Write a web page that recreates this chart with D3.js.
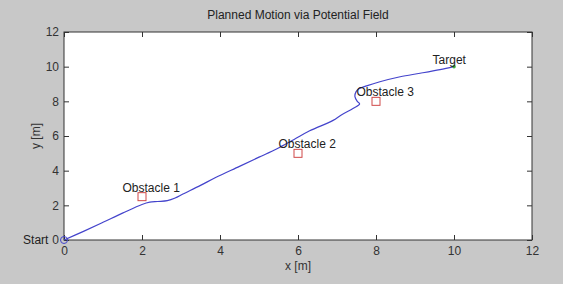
<!DOCTYPE html>
<html>
<head>
<meta charset="utf-8">
<script src="https://cdn.jsdelivr.net/npm/d3@7"></script>
<style>
  body { margin: 0; background: #c8c8c8; }
  svg { display: block; font-family: "Liberation Sans", Arial, sans-serif; }
</style>
</head>
<body>
<div id="chart"></div>
<script>
// path of the robot
var pathX = [0, 0.5, 1, 1.5, 2.0, 2.2, 2.4, 2.65, 2.85, 3.05, 3.5, 3.9, 4.5, 5.0, 5.45, 5.9, 6.3, 6.9, 7.1, 7.42, 7.58, 7.52, 7.46, 7.49, 7.56, 7.76, 8.1, 8.62, 9.13, 9.64, 10];
var pathY = [0, 0.5, 1.02, 1.55, 2.05, 2.18, 2.22, 2.27, 2.42, 2.65, 3.15, 3.62, 4.25, 4.78, 5.25, 5.8, 6.3, 6.9, 7.2, 7.6, 7.85, 8.0, 8.27, 8.56, 8.72, 8.89, 9.13, 9.42, 9.62, 9.83, 10];

var obstacleX = [2, 6, 8];
var obstacleY = [2.5, 5, 8];
var obstacleNames = ["Obstacle 1", "Obstacle 2", "Obstacle 3"];

var targetX = 10, targetY = 10;
var startX = 0, startY = 0;

var xTicks = [0, 2, 4, 6, 8, 10, 12];
var yTicks = [0, 2, 4, 6, 8, 10, 12];

var margin = {top: 32, right: 31, bottom: 44, left: 64},
    width = 563 - margin.left - margin.right,
    height = 284 - margin.top - margin.bottom;

var svg = d3.select("#chart")
  .append("svg")
    .attr("width", 563)
    .attr("height", 284);

svg.append("rect")
  .attr("width", 563).attr("height", 284)
  .attr("fill", "#c8c8c8");

svg.append("text")
  .attr("x", margin.left + width / 2)
  .attr("y", 19)
  .attr("text-anchor", "middle")
  .attr("font-size", 12)
  .attr("fill", "#222")
  .text("Planned Motion via Potential Field");

var g = svg.append("g")
  .attr("transform", "translate(" + margin.left + "," + margin.top + ")");

var x = d3.scaleLinear().domain([0, 12]).range([0, width]);
var y = d3.scaleLinear().domain([0, 12]).range([height, 0]);

// white axes box
g.append("rect")
  .attr("width", width).attr("height", height)
  .attr("fill", "#ffffff");

// axes, ticks pointing inward (MATLAB style)
function styleAxis(sel) {
  sel.select(".domain").remove();
  sel.selectAll("line").attr("stroke", "#333");
  sel.selectAll("text").attr("fill", "#333").attr("font-size", 12)
    .attr("font-family", "'Liberation Sans', Arial, sans-serif");
}

g.append("g")
  .attr("transform", "translate(0," + height + ")")
  .call(d3.axisBottom(x).tickValues(xTicks).tickSize(-5).tickPadding(6))
  .call(styleAxis);

g.append("g")
  .call(d3.axisTop(x).tickValues(xTicks).tickSize(-5).tickFormat(""))
  .call(styleAxis);

g.append("g")
  .call(d3.axisLeft(y).tickValues(yTicks).tickSize(-5).tickPadding(5))
  .call(styleAxis);

g.append("g")
  .attr("transform", "translate(" + width + ",0)")
  .call(d3.axisRight(y).tickValues(yTicks).tickSize(-5).tickFormat(""))
  .call(styleAxis);

g.append("rect")
  .attr("width", width).attr("height", height)
  .attr("fill", "none")
  .attr("stroke", "#333")
  .attr("stroke-width", 1);

// axis labels
svg.append("text")
  .attr("x", margin.left + width / 2)
  .attr("y", 270)
  .attr("text-anchor", "middle")
  .attr("font-size", 12)
  .attr("fill", "#333")
  .text("x [m]");

svg.append("text")
  .attr("transform", "translate(40," + (margin.top + height / 2) + ") rotate(-90)")
  .attr("text-anchor", "middle")
  .attr("font-size", 12)
  .attr("fill", "#333")
  .text("y [m]");

// planned path
var pts = d3.zip(pathX, pathY);
g.append("path")
  .datum(pts)
  .attr("fill", "none")
  .attr("stroke", "#4444cc")
  .attr("stroke-width", 1.2)
  .attr("d", d3.line()
    .x(function(d) { return x(d[0]); })
    .y(function(d) { return y(d[1]); })
    .curve(d3.curveCatmullRom));

// obstacles
var obs = d3.zip(obstacleX, obstacleY, obstacleNames);
g.selectAll(".obs")
  .data(obs)
  .join("rect")
    .attr("class", "obs")
    .attr("x", function(d) { return x(d[0]) - 4; })
    .attr("y", function(d) { return y(d[1]) - 4; })
    .attr("width", 8).attr("height", 8)
    .attr("fill", "none")
    .attr("stroke", "#d04848")
    .attr("stroke-width", 1);

g.selectAll(".obsLabel")
  .data(obs)
  .join("text")
    .attr("class", "obsLabel")
    .attr("x", function(d) { return x(d[0] - 0.5); })
    .attr("y", function(d) { return y(d[1] + 0.5); })
    .attr("dy", "0.3em")
    .attr("font-size", 12)
    .attr("fill", "#222")
    .text(function(d) { return d[2]; });

// target
g.append("circle")
  .attr("cx", x(targetX)).attr("cy", y(targetY))
  .attr("r", 1.8)
  .attr("fill", "#40b040");

g.append("text")
  .attr("x", x(targetX - 0.55))
  .attr("y", y(targetY + 0.35))
  .attr("dy", "0.3em")
  .attr("font-size", 12)
  .attr("fill", "#222")
  .text("Target");

// start
g.append("circle")
  .attr("cx", x(startX)).attr("cy", y(startY))
  .attr("r", 3.5)
  .attr("fill", "none")
  .attr("stroke", "#4444cc")
  .attr("stroke-width", 1);

g.append("text")
  .attr("x", x(startX - 1.05))
  .attr("y", y(startY))
  .attr("dy", "0.35em")
  .attr("font-size", 12)
  .attr("fill", "#222")
  .text("Start");
</script>
</body>
</html>
